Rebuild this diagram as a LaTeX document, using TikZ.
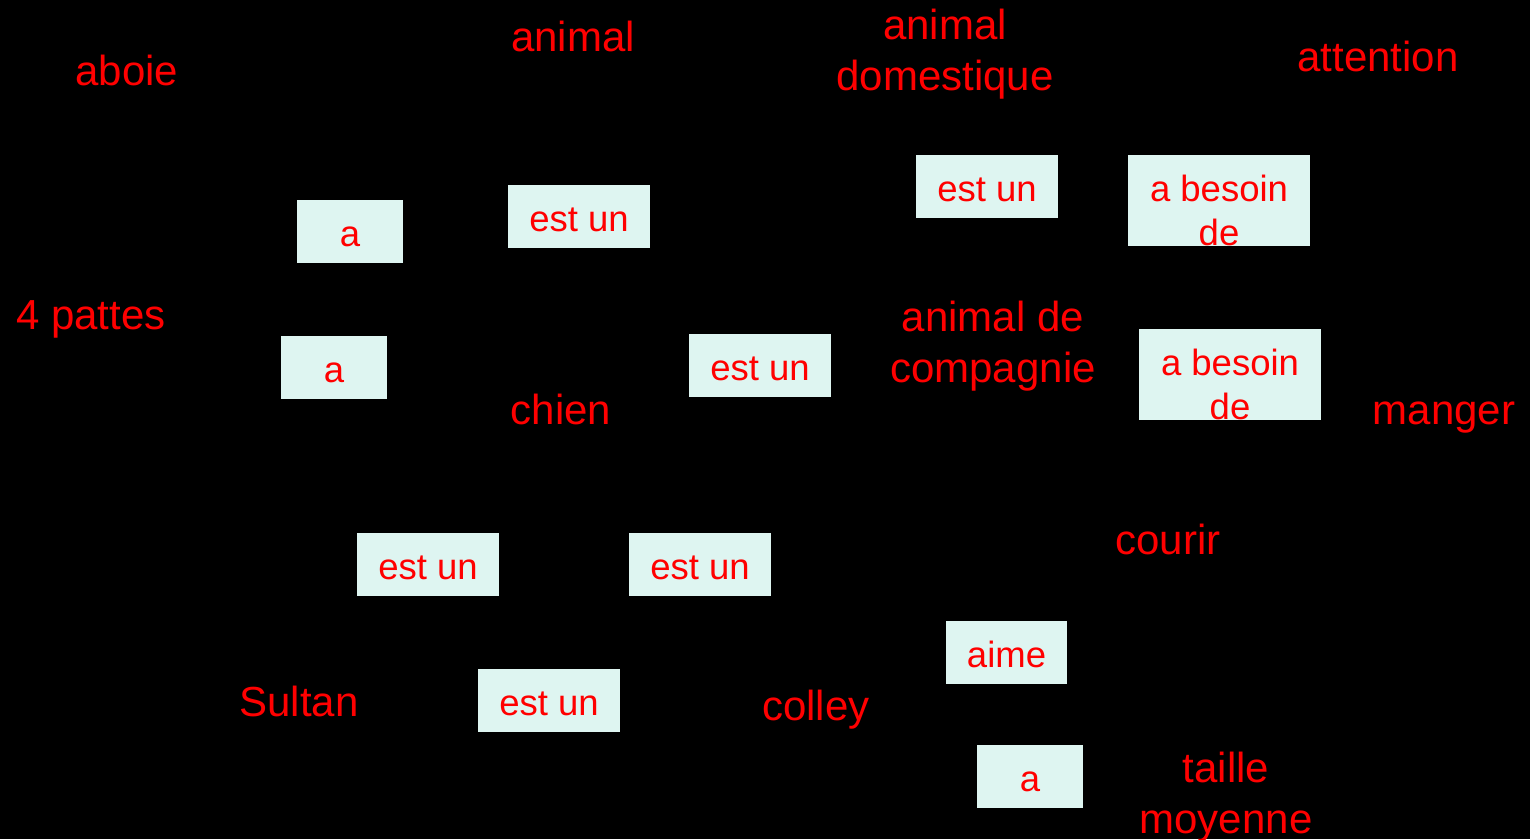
\documentclass[tikz,border=0pt]{standalone}
\usepackage{fontspec}
\setmainfont{Liberation Sans}
\definecolor{txtred}{RGB}{255,0,0}
\definecolor{boxfill}{RGB}{222,245,241}
\begin{document}
\begin{tikzpicture}[x=1pt,y=-1pt,
  freetext/.style={text=txtred, font=\fontsize{42}{51.5}\selectfont, inner sep=0pt, anchor=base},
  relbox/.style={fill=boxfill, draw=none, inner sep=0pt, minimum height=63pt, text=txtred,
     font=\fontsize{36.5}{44}\selectfont, text height=30pt, text depth=0pt},
  tallbox/.style={fill=boxfill, draw=none, inner sep=0pt, minimum width=182pt, minimum height=91pt},
  boxtext/.style={text=txtred, font=\fontsize{36.5}{44}\selectfont, inner sep=0pt, anchor=base}
]
\fill[black] (0,0) rectangle (1530,839);
\useasboundingbox (0,0) rectangle (1530,839);

% concept texts
\node[freetext] (aboie) at (127,85) {aboie};
\node[freetext] (animal) at (573,51) {animal};
\node[freetext] (animdom) at (945,39) {\begin{tabular}[t]{@{}c@{}}animal\\domestique\end{tabular}};
\node[freetext] (attention) at (1378,71) {attention};
\node[freetext] (pattes) at (91,329) {4 pattes};
\node[freetext] (animcomp) at (993,331) {\begin{tabular}[t]{@{}c@{}}animal de\\compagnie\end{tabular}};
\node[freetext] (chien) at (561,424) {chien};
\node[freetext] (manger) at (1444,424) {manger};
\node[freetext] (courir) at (1168,554) {courir};
\node[freetext] (sultan) at (299,716) {Sultan};
\node[freetext] (colley) at (816,720) {colley};
\node[freetext] (taille) at (1226,782) {\begin{tabular}[t]{@{}c@{}}taille\\moyenne\end{tabular}};

% relation boxes
\node[relbox, minimum width=106pt] (r1) at (350,231.5) {a};
\node[relbox, minimum width=142pt] (r2) at (579,216.5) {est un};
\node[relbox, minimum width=142pt] (r3) at (987,186.5) {est un};
\node[tallbox] (r4) at (1219,200.5) {};
\node[boxtext] (r4t) at (1219,201) {\begin{tabular}[t]{@{}c@{}}a besoin\\de\end{tabular}};
\node[relbox, minimum width=106pt] (r5) at (334,367.5) {a};
\node[relbox, minimum width=142pt] (r6) at (760,365.5) {est un};
\node[tallbox] (r7) at (1230,374.5) {};
\node[boxtext] (r7t) at (1230,375) {\begin{tabular}[t]{@{}c@{}}a besoin\\de\end{tabular}};
\node[relbox, minimum width=142pt] (r8) at (428,564.5) {est un};
\node[relbox, minimum width=142pt] (r9) at (700,564.5) {est un};
\node[relbox, minimum width=142pt] (r10) at (549,700.5) {est un};
\node[relbox, minimum width=121pt] (r11) at (1006.5,652.5) {aime};
\node[relbox, minimum width=106pt] (r12) at (1030,776.5) {a};
\end{tikzpicture}
\end{document}
